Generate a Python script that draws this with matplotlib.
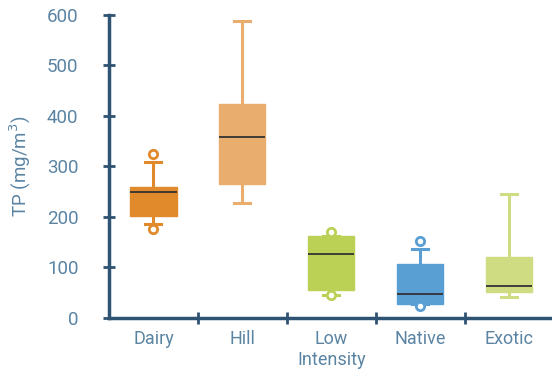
import matplotlib
matplotlib.use('Agg')
import matplotlib.pyplot as plt

plt.rcParams['font.family'] = ['Roboto', 'DejaVu Sans']

categories = ['Dairy', 'Hill', 'Low\nIntensity', 'Native', 'Exotic']
q1 = [202, 265, 55, 28, 52]
med = [250, 358, 127, 48, 64]
q3 = [259, 424, 162, 107, 121]
whislo = [186, 228, 46, 28, 42]
whishi = [309, 588, 162, 137, 246]
fliers = [[325, 176], [], [170, 46], [153, 24], []]
colors = ['#E08A2C', '#E9AE6E', '#BAD155', '#5A9FD4', '#CFDC82']

AXIS_COLOR = '#2F5373'
TEXT_COLOR = '#5B84A3'

fig = plt.figure(figsize=(5.52, 3.74), dpi=100)
ax = fig.add_axes([0.1975, 0.150, 0.805, 0.810])

stats = []
for i, name in enumerate(categories):
    stats.append({'label': name, 'q1': q1[i], 'med': med[i], 'q3': q3[i],
                  'whislo': whislo[i], 'whishi': whishi[i], 'fliers': fliers[i]})

positions = list(range(1, len(categories) + 1))
bp = ax.bxp(stats, positions=positions, widths=0.52, patch_artist=True,
            showfliers=True, manage_ticks=False)

for i, c in enumerate(colors):
    bp['boxes'][i].set(facecolor=c, edgecolor=c, linewidth=1)
    bp['medians'][i].set(color='#333333', linewidth=1.3)
    for w in bp['whiskers'][2 * i:2 * i + 2]:
        w.set(color=c, linewidth=2.2)
    for cap in bp['caps'][2 * i:2 * i + 2]:
        cap.set(color=c, linewidth=2.2, xdata=[positions[i] - 0.09, positions[i] + 0.09])
    bp['fliers'][i].set(marker='o', markerfacecolor='white', markeredgecolor=c,
                        markeredgewidth=2, markersize=6)

ax.set_xlim(0.5, 5.5)
ax.set_ylim(0, 600)
ax.set_yticks(range(0, 601, 100))

# category ticks sit between the boxes, labels centred below each box
ax.set_xticks([1.5, 2.5, 3.5, 4.5])
ax.set_xticklabels([])
ax.set_xticks(positions, minor=True)
ax.set_xticklabels(categories, minor=True, linespacing=1.2)
ax.tick_params(axis='x', which='minor', length=0, pad=9, labelsize=13,
               labelcolor=TEXT_COLOR)
ax.tick_params(axis='x', which='major', direction='inout', length=9, width=2,
               color=AXIS_COLOR)
ax.tick_params(axis='y', direction='inout', length=8, width=2, color=AXIS_COLOR,
               labelsize=13.5, labelcolor=TEXT_COLOR, pad=18)

ax.set_ylabel('TP (mg/m$^3$)', fontsize=13.5, color=TEXT_COLOR, labelpad=10)

for side in ['top', 'right']:
    ax.spines[side].set_visible(False)
for side in ['left', 'bottom']:
    ax.spines[side].set_color(AXIS_COLOR)
    ax.spines[side].set_linewidth(2.5)

fig.savefig('out.png', dpi=100)
